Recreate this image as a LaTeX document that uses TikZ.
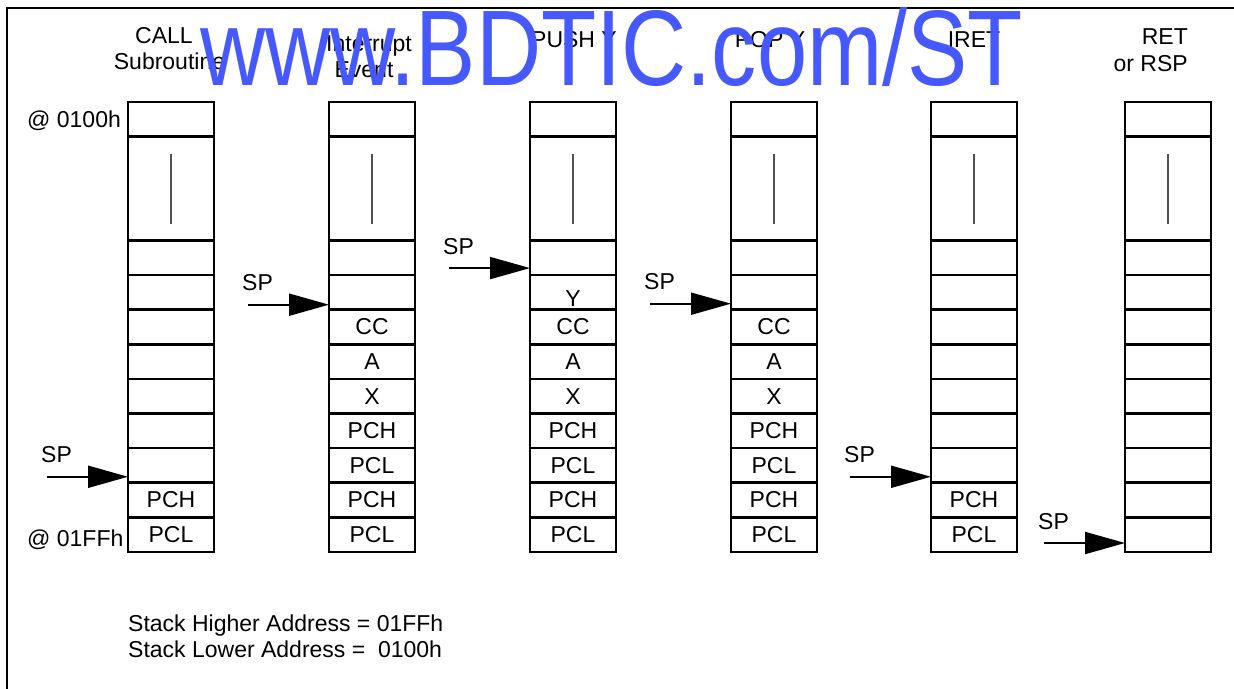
\documentclass[tikz,border=0pt]{standalone}
\usepackage{fontspec}
\setmainfont{Liberation Sans}
\usetikzlibrary{arrows.meta}
\definecolor{wmblue}{RGB}{70,88,255}
\begin{document}
\begin{tikzpicture}
[x=1pt, y=-1pt, font=\fontsize{23}{27}\selectfont,
       stackcell/.style={draw, line width=2.6pt, minimum width=86pt, minimum height=34.615pt,
                         inner sep=0pt, outer sep=0pt, anchor=north west},
       bigcell/.style={stackcell, minimum height=103.85pt},
       midline/.style={draw=black!68, line width=2.3pt},
       sparrow/.style={line width=2pt, -{Triangle[length=40pt,width=22pt]}},
       splabel/.style={anchor=base west, inner sep=0pt},
       header/.style={anchor=base, inner sep=0pt}]
  \useasboundingbox (0,0) rectangle (1234,688);
  \clip (0,0) rectangle (1234,688);
  % frame
  \draw[line width=1.4pt] (1240,8) -- (7,8) -- (7,700);
  % stacks
  \foreach \x/\n in {128/1,329/2,530/3,731/4,931/5,1125/6}{
    \node[stackcell] (c\n-top) at (\x,102) {};
    \node[bigcell] (c\n-big) at (\x,136.6) {};
    \draw[midline] ([yshift=-17pt]c\n-big.north) -- ([yshift=16pt]c\n-big.south);
    \foreach \k in {0,...,8}
      \node[stackcell] (c\n-r\k) at (\x,{240.46+34.615*\k}) {};
  }
  % contents
  \node (t3-1) at ([yshift=-6pt]c3-r1) {Y};
  \foreach \n in {2,3,4}
    \foreach \t [count=\k from 2] in {CC,A,X}
      \node (t\n-\k) at (c\n-r\k) {\t};
  \foreach \n in {1,...,5}{
    \node (t\n-5) at (c\n-r5) {\ifnum\n<5 \ifnum\n>1 PCH\fi\fi};
    \node (t\n-6) at (c\n-r6) {\ifnum\n<5 \ifnum\n>1 PCL\fi\fi};
    \node (t\n-7) at (c\n-r7) {PCH};
    \node (t\n-8) at (c\n-r8) {PCL};
  }
  % stack pointers
  \foreach \n/\tgt/\d in {1/c1-r7.north west/6, 2/c2-r2.north west/5, 3/c3-r1.north west/7,
                          4/c4-r2.north west/6, 5/c5-r7.north west/6, 6/c6-r8.south west/9}{
    \coordinate (sp\n) at ([xshift=-81pt,yshift=\d pt]\tgt);
    \draw[sparrow] (sp\n) -- ([yshift=\d pt]\tgt);
    \node[splabel] (spl\n) at ([xshift=-6pt,yshift=14pt]sp\n) {SP};
  }
  % addresses
  \node[anchor=base west, inner sep=0pt] (lo) at (27,127) {@ 0100h};
  \node[anchor=base west, inner sep=0pt] (hi) at (27,546) {@ 01FFh};
  % headers
  \node[header] (call1) at (164,43) {CALL};
  \node[header] (call2) at (169.5,69) {Subroutine};
  \node[header] (int1) at (369,51) {Interrupt};
  \node[header] (int2) at (364,77) {Event};
  \node[header] (push) at (574,47) {PUSH Y};
  \node[header] (pop) at (770,47) {POP Y};
  \node[header] (iret) at (974,47) {IRET};
  \node[header, anchor=base east] (ret1) at (1188,44) {RET};
  \node[header, anchor=base east] (ret2) at (1188,71) {or RSP};
  % notes
  \node[anchor=base west, inner sep=0pt] (note1) at (128,631) {Stack Higher Address = 01FFh};
  \node[anchor=base west, inner sep=0pt] (note2) at (128,657) {Stack Lower Address = \ 0100h};
  % watermark
  \node[anchor=base west, inner sep=0pt, text=wmblue] (wm) at (200,85)
    {\scalebox{0.84}[1]{\fontsize{107.5}{110}\selectfont www.BDTIC.com/ST}};
\end{tikzpicture}
\end{document}
